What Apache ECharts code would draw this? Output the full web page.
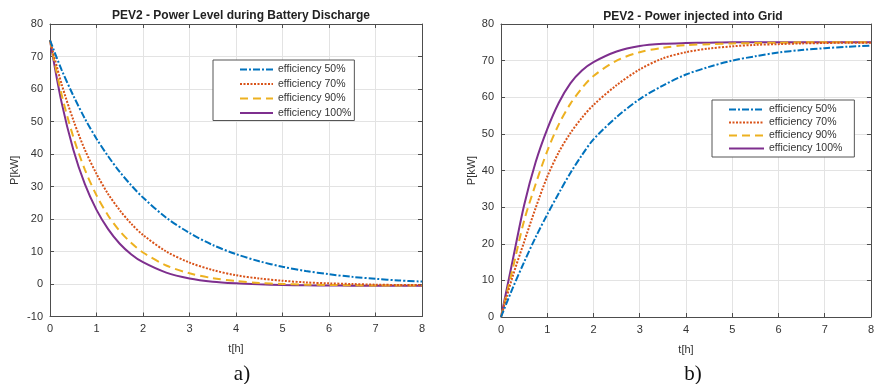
<!DOCTYPE html>
<html>
<head>
<meta charset="utf-8">
<script src="https://cdn.jsdelivr.net/npm/echarts@6/dist/echarts.min.js"></script>
<style>html,body{margin:0;padding:0;background:#fff}#c{width:877px;height:384px}</style>
</head>
<body>
<div id="c"></div>
<script>
const tHours = [0,0.25,0.5,0.75,1,1.25,1.5,1.75,2,2.5,3,3.5,4,4.5,5,5.5,6,6.5,7,7.5,8];
const seriesNames = ['efficiency 50%','efficiency 70%','efficiency 90%','efficiency 100%'];

// a) Power level during battery discharge [kW]
const dis50  = [75,65.9,58.0,50.9,44.7,39.3,34.5,30.3,26.6,20.4,15.7,12.0,9.2,7.0,5.3,4.0,3.0,2.2,1.6,1.1,0.75];
const dis70  = [75,61.5,50.5,41.3,33.9,27.7,22.7,18.5,15.1,10.0,6.6,4.3,2.7,1.7,1.0,0.5,0.2,0.0,-0.2,-0.3,-0.35];
const dis90  = [75,58.3,45.3,35.2,27.3,21.1,16.3,12.6,9.7,5.7,3.3,1.8,0.9,0.3,0.0,-0.2,-0.3,-0.4,-0.45,-0.45,-0.5];
const dis100 = [75,55.8,41.4,30.7,22.8,16.9,12.4,9.1,6.7,3.5,1.7,0.7,0.2,-0.1,-0.3,-0.4,-0.45,-0.5,-0.5,-0.5,-0.5];

// b) Power injected into grid [kW]
const inj50  = [0,7.8,15.0,21.8,28.0,33.8,39.3,44.2,48.5,54.6,59.5,63.2,66.2,68.3,70.0,71.2,72.2,72.9,73.4,73.8,74.1];
const inj70  = [0,11.0,20.5,29.8,38.3,45.0,50.2,54.4,57.9,63.3,67.6,70.6,72.3,73.3,73.9,74.3,74.5,74.7,74.8,74.9,74.9];
const inj90  = [0,13.0,26.3,36.3,45.3,52.6,58.2,62.5,65.8,70.0,72.3,73.5,74.2,74.5,74.7,74.8,74.9,75.0,75.0,75.0,75.0];
const inj100 = [0,15.3,30.5,42.3,51.3,58.5,63.8,67.3,69.6,72.5,74.0,74.6,74.8,74.9,75.0,75.0,75.0,75.0,75.0,75.0,75.0];

const xTicks = {min:0, max:8, interval:1};
const yTicksA = {min:-10, max:80, interval:10};
const yTicksB = {min:0, max:80, interval:10};

const colors = ['#0072BD','#D95319','#EDB120','#7E2F8E'];
const dashes = [[7,2,2,2],[2,1.5],[8,5],'solid'];
const widths = [2,2,2,2];

const axisCol = '#4d4d4d';
const fontFam = 'Liberation Sans, Arial, sans-serif';
const labelStyle = {color:'#333', fontSize:11, fontFamily:fontFam};

function mkX(grid, pos, main){
  return {type:'value', gridIndex:grid, position:pos, min:xTicks.min, max:xTicks.max, interval:xTicks.interval,
    axisLine:{show:true,onZero:false,lineStyle:{color:axisCol,width:1}},
    axisTick:{show:true,inside:true,length:4,lineStyle:{color:axisCol}},
    axisLabel:{show:main, margin:7, ...labelStyle},
    splitLine:{show:main,lineStyle:{color:'#e3e3e3',width:1}},
    name: main ? 't[h]' : '', nameLocation:'middle', nameGap:27,
    nameTextStyle:{color:'#333',fontSize:11,fontFamily:fontFam}};
}
function mkY(grid, pos, main, t, gap){
  return {type:'value', gridIndex:grid, position:pos, min:t.min, max:t.max, interval:t.interval,
    axisLine:{show:true,onZero:false,lineStyle:{color:axisCol,width:1}},
    axisTick:{show:true,inside:true,length:4,lineStyle:{color:axisCol}},
    axisLabel:{show:main, margin:7, ...labelStyle},
    splitLine:{show:main,lineStyle:{color:'#e3e3e3',width:1}},
    name: main ? 'P[kW]' : '', nameLocation:'middle', nameGap:gap, nameRotate:90,
    nameTextStyle:{color:'#333',fontSize:11,fontFamily:fontFam}};
}

function mkSeries(grid, arrs){
  return arrs.map((arr,i)=>({
    name:seriesNames[i], type:'line', xAxisIndex:grid*2, yAxisIndex:grid*2,
    data: tHours.map((t,k)=>[t,arr[k]]), smooth:0.3, symbol:'none', showSymbol:false,
    lineStyle:{color:colors[i], width:widths[i], type:dashes[i]},
    itemStyle:{color:colors[i]}, z: 10-i
  }));
}

const legendCommon = {
  orient:'vertical', data:seriesNames, itemHeight:12, selectedMode:false,
  borderColor:'#555', borderWidth:1, backgroundColor:'#fff',
  itemStyle:{opacity:0},
  textStyle:{fontSize:10.5, color:'#333', fontFamily:fontFam}
};

const chart = echarts.init(document.getElementById('c'), null, {renderer:'canvas'});
chart.setOption({
  animation:false,
  backgroundColor:'#fff',
  title:[
    {text:'PEV2 - Power Level during Battery Discharge', left:236, top:5, textAlign:'center',
     textStyle:{fontSize:12, fontWeight:'bold', color:'#222', fontFamily:fontFam}},
    {text:'PEV2 - Power injected into Grid', left:688, top:6, textAlign:'center',
     textStyle:{fontSize:12, fontWeight:'bold', color:'#222', fontFamily:fontFam}},
    {text:'a)', left:237, top:359, textAlign:'center',
     textStyle:{fontSize:21, fontWeight:'normal', color:'#111', fontFamily:'Liberation Serif, DejaVu Serif, serif'}},
    {text:'b)', left:688, top:359, textAlign:'center',
     textStyle:{fontSize:21, fontWeight:'normal', color:'#111', fontFamily:'Liberation Serif, DejaVu Serif, serif'}}
  ],
  grid:[
    {left:50, right:455, top:24, bottom:67.5, containLabel:false},
    {left:501, right:5, top:24, bottom:67, containLabel:false}
  ],
  xAxis:[mkX(0,'bottom',true), mkX(0,'top',false), mkX(1,'bottom',true), mkX(1,'top',false)],
  yAxis:[mkY(0,'left',true,yTicksA,30), mkY(0,'right',false,yTicksA,0), mkY(1,'left',true,yTicksB,24), mkY(1,'right',false,yTicksB,0)],
  legend:[
    {...legendCommon, left:213, top:60, itemWidth:33, itemGap:3.5, padding:[4,3,2,26]},
    {...legendCommon, left:712, top:100, itemWidth:35, itemGap:2, padding:[4,12,3,16]}
  ],
  series:[...mkSeries(0,[dis50,dis70,dis90,dis100]), ...mkSeries(1,[inj50,inj70,inj90,inj100])]
});
</script>
</body>
</html>
